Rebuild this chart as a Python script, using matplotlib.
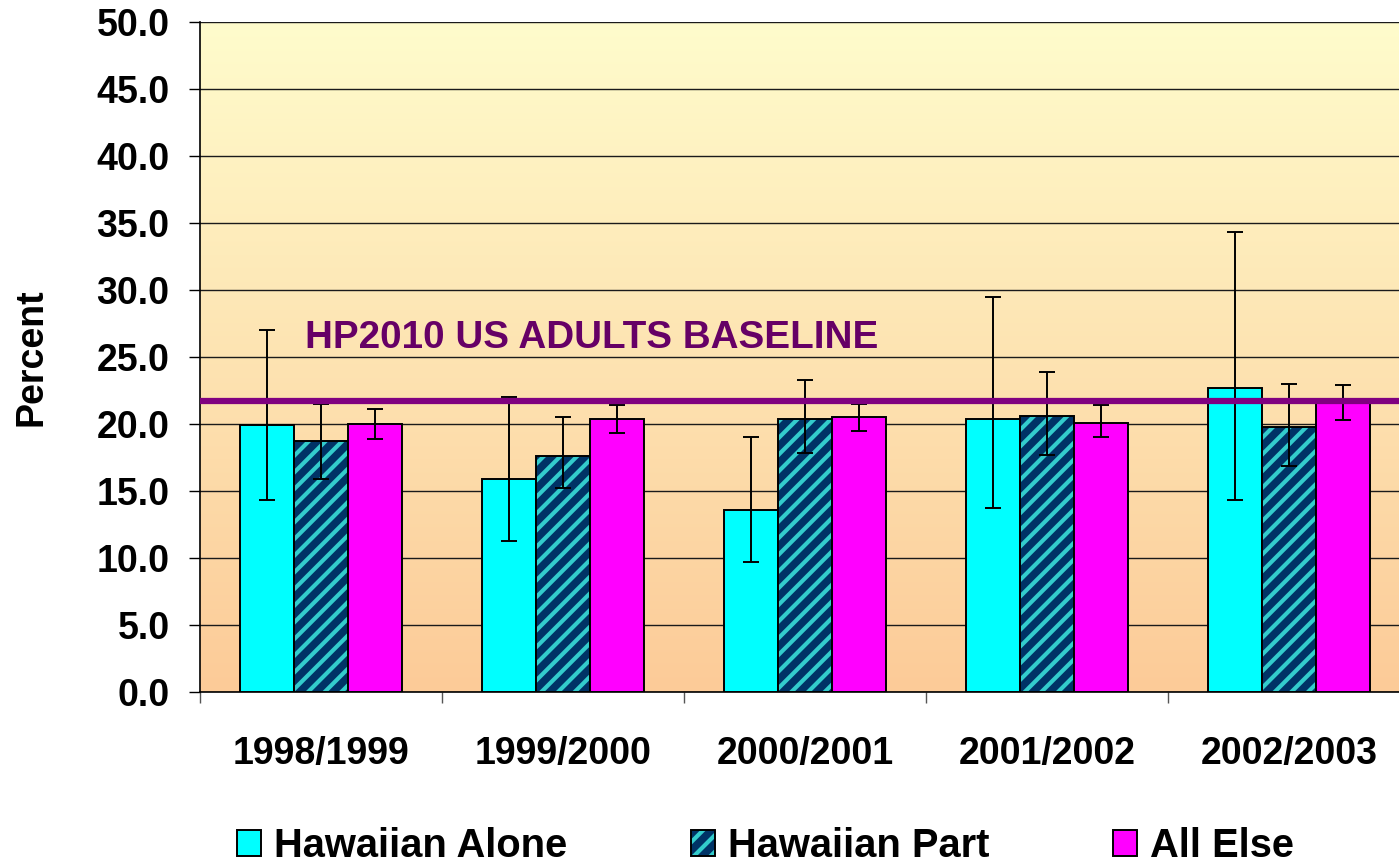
import numpy as np
import matplotlib
matplotlib.use('Agg')
import matplotlib.pyplot as plt
from matplotlib.colors import LinearSegmentedColormap

plt.rcParams['font.family'] = ['Liberation Sans', 'DejaVu Sans']
plt.rcParams['font.weight'] = 'bold'
plt.rcParams['hatch.linewidth'] = 3.0

years = ['1998/1999', '1999/2000', '2000/2001', '2001/2002', '2002/2003']

alone = [19.9, 15.9, 13.6, 20.4, 22.7]
alone_lo = [14.3, 11.3, 9.7, 13.7, 14.3]
alone_hi = [27.0, 22.0, 19.0, 29.5, 34.3]

part = [18.7, 17.6, 20.4, 20.6, 19.8]
part_lo = [15.9, 15.2, 17.8, 17.7, 16.9]
part_hi = [21.5, 20.5, 23.3, 23.9, 23.0]

other = [20.0, 20.4, 20.5, 20.1, 21.6]
other_lo = [18.9, 19.3, 19.5, 19.0, 20.3]
other_hi = [21.1, 21.4, 21.5, 21.4, 22.9]

baseline = 21.7
baseline_label = 'HP2010 US ADULTS BASELINE'


def errs(vals, lo, hi):
    vals = np.array(vals)
    return [vals - np.array(lo), np.array(hi) - vals]


fig = plt.figure(figsize=(13.99, 8.68), dpi=100)
ax = fig.add_axes([200 / 1399, 176 / 868, 1210 / 1399, 670 / 868])

# background gradient, light yellow at top to peach at bottom
grad = np.linspace(0, 1, 256).reshape(-1, 1)
cmap = LinearSegmentedColormap.from_list('bg', ['#FFFCCC', '#FCCB98'])
ax.imshow(grad, extent=[-0.5, 4.5, 0, 50], aspect='auto', cmap=cmap,
          origin='upper', zorder=0)

x = np.arange(len(years))
w = 0.223
ekw = dict(ecolor='black', elinewidth=1.4, capsize=6, capthick=1.4, zorder=4)

b1 = ax.bar(x - w, alone, w, color='#00FFFF', edgecolor='black',
            linewidth=1.4, zorder=3)
ax.errorbar(x - w, alone, yerr=errs(alone, alone_lo, alone_hi), fmt='none', **ekw)

b2 = ax.bar(x, part, w, color='#003366', edgecolor='#33CCCC', hatch='//',
            linewidth=0, zorder=3)
b2e = ax.bar(x, part, w, color='none', edgecolor='black', linewidth=1.4, zorder=3)
ax.errorbar(x, part, yerr=errs(part, part_lo, part_hi), fmt='none', **ekw)

b3 = ax.bar(x + w, other, w, color='#FF00FF', edgecolor='black',
            linewidth=1.4, zorder=3)
ax.errorbar(x + w, other, yerr=errs(other, other_lo, other_hi), fmt='none', **ekw)

ax.axhline(baseline, color='#800080', linewidth=4.5, zorder=5)
ax.text(-0.066, 25.7, baseline_label, color='#660066', fontsize=27.8,
        fontweight='bold', va='baseline', ha='left', zorder=6)

ax.set_xlim(-0.5, 4.5)
ax.set_ylim(0, 50)
ax.set_yticks(np.arange(0, 50.1, 5))
ax.set_yticklabels([f'{v:.1f}' for v in np.arange(0, 50.1, 5)])
ax.yaxis.grid(True, color='#1a1a1a', linewidth=1.0, zorder=1)
ax.set_axisbelow(True)

ax.set_xticks(np.arange(-0.5, 4.6, 1))
ax.set_xticklabels([])
ax.set_xticks(x, minor=True)
ax.set_xticklabels(years, minor=True)
ax.tick_params(axis='x', which='major', length=8, color='#555555', width=1)
ax.tick_params(axis='x', which='minor', length=0, pad=32, labelsize=27)
ax.tick_params(axis='y', length=8, width=1, pad=14, labelsize=27)

for s in ['top', 'right']:
    ax.spines[s].set_visible(False)
ax.spines['left'].set_linewidth(1.2)
ax.spines['bottom'].set_linewidth(1.2)

ax.set_ylabel('Percent', fontsize=27, fontweight='bold')
ax.yaxis.set_label_coords(-0.124, 0.5)

fig.legend([b1, (b2, b2e), b3], ['Hawaiian Alone', 'Hawaiian Part', 'All Else'],
           loc='center left', bbox_to_anchor=(237 / 1399, 1 - 846 / 868),
           ncol=3, frameon=False, fontsize=28.7, borderpad=0, borderaxespad=0,
           handlelength=0.6, handleheight=0.6, handletextpad=0.33,
           columnspacing=3.1)

fig.savefig('out.png', dpi=100)
